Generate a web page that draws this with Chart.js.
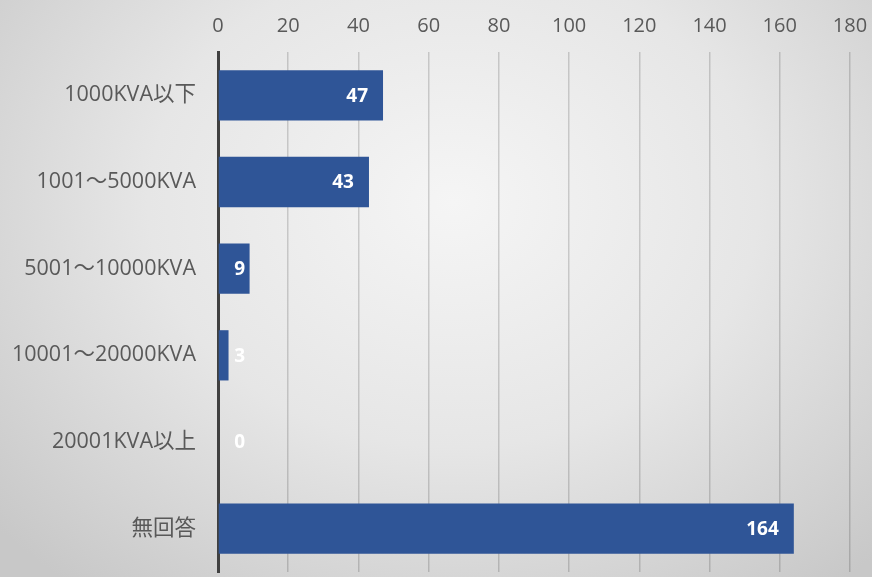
<!DOCTYPE html>
<html><head><meta charset="utf-8">
<script src="https://cdn.jsdelivr.net/npm/chart.js@4/dist/chart.umd.min.js"></script>
<style>
html,body{margin:0;padding:0;}
body{width:872px;height:577px;overflow:hidden;
background:radial-gradient(ellipse 70% 85% at 52% 35%, #f5f5f5 0%, #e6e6e6 50%, #c8c8c8 100%);}
#wrap{position:relative;width:872px;height:577px;}
</style></head><body>
<div id="wrap"><canvas id="c" width="872" height="577"></canvas></div>
<script>
const categories = ["1000KVA以下","1001～5000KVA","5001～10000KVA","10001～20000KVA","20001KVA以上","無回答"];
const values = [47,43,9,3,0,164];
const axisMin = 0, axisMax = 180, axisStep = 20;

const FONT = "'Open Sans','Noto Sans CJK JP',sans-serif";

const labelPlugin = {
  id:'barLabels',
  afterDatasetsDraw(chart){
    const ctx = chart.ctx;
    const meta = chart.getDatasetMeta(0);
    const xs = chart.scales.x;
    const origin = xs.getPixelForValue(0);
    ctx.save();
    ctx.font = "bold 19px " + FONT;
    ctx.fillStyle = "#ffffff";
    ctx.textAlign = "right";
    ctx.textBaseline = "middle";
    meta.data.forEach((bar,i)=>{
      const x = Math.max(bar.x - 15, origin + 27);
      ctx.fillText(String(values[i]), x, bar.y + 1);
    });
    ctx.restore();
  }
};

new Chart(document.getElementById('c'), {
  type:'bar',
  data:{labels:categories, datasets:[{data:values, backgroundColor:'#2F5597', borderWidth:0,
    barPercentage:0.58, categoryPercentage:1}]},
  options:{
    indexAxis:'y', responsive:false, animation:false,
    layout:{padding:{top:0,right:22,left:0,bottom:5}},
    plugins:{legend:{display:false}, tooltip:{enabled:false}},
    scales:{
      x:{position:'top', min:axisMin, max:axisMax,
        ticks:{stepSize:axisStep, color:'#595959', font:{family:FONT,size:20}, padding:14},
        grid:{color:'rgba(0,0,0,0.16)', lineWidth:1.5, drawTicks:false},
        border:{display:false},
        afterFit(s){ s.paddingLeft = 0; s.paddingRight = 0; }},
      y:{ticks:{color:'#595959', font:{family:FONT,size:21.5}, padding:14},
        grid:{display:false},
        border:{display:true,color:'#404040',width:3},
        afterFit(s){ s.width = 218; s.paddingTop = 0; s.paddingBottom = 0; }}
    }
  },
  plugins:[labelPlugin]
});
</script></body></html>
